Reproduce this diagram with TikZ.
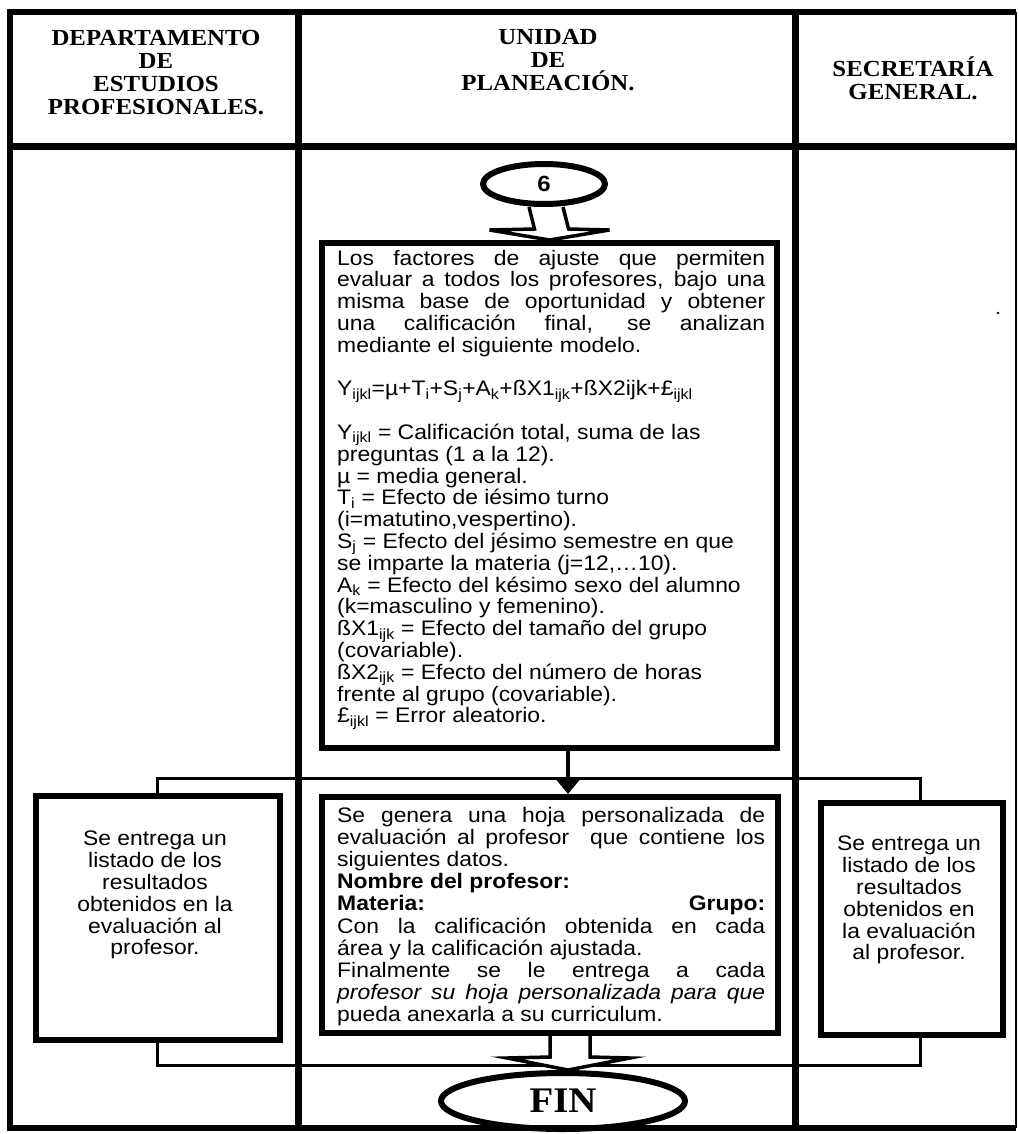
\documentclass[tikz,border=0pt]{standalone}
\usepackage{fontspec}
\setmainfont{Liberation Sans}[FakeStretch=1.09]
\newfontfamily\hdrfont{Liberation Serif}[FakeStretch=1.08]
\usetikzlibrary{calc,shapes.geometric,arrows.meta}

\newcommand\sbx[1]{\textsubscript{#1}}
\newcommand\tightlines{\lineskiplimit=-50pt\relax\lineskip=0pt\relax}

\begin{document}
\begin{tikzpicture}[x=1pt,y=-1pt,
  lane/.style={line width=7pt},
  box/.style={draw,line width=6pt,fill=white,inner sep=0pt,anchor=north west},
  link/.style={line width=3pt},
  blockarrow/.style={draw,fill=white,line width=3.5pt,line join=miter},
  hdr/.style={font=\hdrfont\bfseries\fontsize{23}{23}\selectfont\tightlines,align=center,inner sep=0pt},
  body/.style={font=\fontsize{21}{21.8}\selectfont\tightlines,inner sep=0pt},
  terminal/.style={draw,ellipse,line width=6pt,fill=white,inner sep=0pt},
]
\useasboundingbox (0,0) rectangle (1018,1134);
\fill[white] (0,0) rectangle (1018,1134);

% swimlane frame
\draw[line width=6pt] (1016,12) -- (10,12) -- (10,1128) -- (1016,1128);
\draw[line width=2.5pt] (1016,12) -- (1016,1128);
\draw[lane] (298,12) -- (298,1128);
\draw[lane] (795,12) -- (795,1128);
\draw[lane] (10,147) -- (1016,147);

% lane headings
\node[hdr] (h1) at (156,73) {DEPARTAMENTO\\DE\\ESTUDIOS\\PROFESIONALES.};
\node[hdr] (h2) at (548,60) {UNIDAD\\DE\\PLANEACIÓN.};
\node[hdr] (h3) at (913,78) {SECRETARÍA\\GENERAL.};

% process boxes
\node[box,minimum width=455pt,minimum height=505pt] (model) at (319,240) {};
\node[box,minimum width=456pt,minimum height=236pt] (sheet) at (319,794) {};
\node[box,minimum width=244pt,minimum height=244pt] (listL) at (33,793) {};
\node[box,minimum width=182pt,minimum height=232pt] (listR) at (818,800) {};

% start connector
\node[terminal,minimum width=122pt,minimum height=40pt,font=\bfseries\fontsize{22}{22}\selectfont] (start) at (544,184) {6};
\draw[blockarrow] ($(start.south)+(-15,0)$) -- ($(model.north)+(-15,-11)$)
  -- ($(model.north)+(-60,-10)$) -- (model.north) -- ($(model.north)+(60,-10)$)
  -- ($(model.north)+(19,-11)$) -- ($(start.south)+(19,0)$);

% branch from the model to the three lanes
\coordinate (flow) at (568,0);
\coordinate (lstem) at (157,0);
\coordinate (rstem) at (920,0);
\coordinate (split) at (568,778);
\draw[line width=4.5pt,-{Triangle[length=14pt,width=22pt]}] (model.south -| flow) -- (sheet.north -| flow);
\draw[link] (listL.north -| lstem) |- (split) -| (listR.north -| rstem);

% the three lanes merge into the end terminal
\coordinate (merge) at (565,1065);
\draw[link] (listL.south -| lstem) |- (merge) -| (listR.south -| rstem);

% end terminal
\node[terminal,minimum width=244pt,minimum height=56pt,font=\hdrfont\bfseries\fontsize{36}{36}\selectfont] (fin) at (563,1101) {FIN};
\draw[blockarrow] ($(sheet.south -| fin)+(-13,0)$) -- ($(fin.north)+(-13,-13)$)
  -- ($(fin.north)+(-56,-12)$) -- ($(fin.north)+(5,0)$) -- ($(fin.north)+(67,-12)$)
  -- ($(fin.north)+(27,-13)$) -- ($(sheet.south -| fin)+(27,0)$);
\draw[line width=6pt] (10,1128) -- (1016,1128);

% texts
\node[body,anchor=base west] (modeltext) at (337,265) {\parbox[t]{428pt}{\tightlines
Los factores de ajuste que permiten\linebreak
evaluar a todos los profesores, bajo una\linebreak
misma base de oportunidad y obtener\linebreak
una calificación final, se analizan\linebreak
mediante el siguiente modelo.\\[21.8pt]
Y\sbx{ijkl}=µ+T\sbx{i}+S\sbx{j}+A\sbx{k}+ßX1\sbx{ijk}+ßX2ijk+£\sbx{ijkl}\\[21.8pt]
Y\sbx{ijkl} = Calificación total, suma de las\\
preguntas (1 a la 12).\\
µ = media general.\\
T\sbx{i} = Efecto de iésimo turno\\
(i=matutino,vespertino).\\
S\sbx{j} = Efecto del jésimo semestre en que\\
se imparte la materia (j=12,…10).\\
A\sbx{k} = Efecto del késimo sexo del alumno\\
(k=masculino y femenino).\\
ßX1\sbx{ijk} = Efecto del tamaño del grupo\\
(covariable).\\
ßX2\sbx{ijk} = Efecto del número de horas\\
frente al grupo (covariable).\\
£\sbx{ijkl} = Error aleatorio.}};

\node[body,anchor=base west] (sheettext) at (337,822) {\parbox[t]{428pt}{\fontsize{21}{22.2}\selectfont\tightlines
Se genera una hoja personalizada de\linebreak
evaluación al profesor\ \ que contiene los\linebreak
siguientes datos.\\
\textbf{Nombre del profesor:}\\
\textbf{Materia:}\hfill\textbf{Grupo:}\\
Con la calificación obtenida en cada\linebreak
área y la calificación ajustada.\\
Finalmente se le entrega a cada\linebreak
\textit{profesor su hoja personalizada para que}\linebreak
pueda anexarla a su curriculum.}};

\node[body,align=center,anchor=north] (listLtext) at (155,831) {Se entrega un\\listado de los\\resultados\\obtenidos en la\\evaluación al\\profesor.};
\node[body,align=center,anchor=north] (listRtext) at (909,836) {Se entrega un\\listado de los\\resultados\\obtenidos en\\la evaluación\\al profesor.};

% speck
\fill (998,313) circle (1.3);
\end{tikzpicture}
\end{document}
